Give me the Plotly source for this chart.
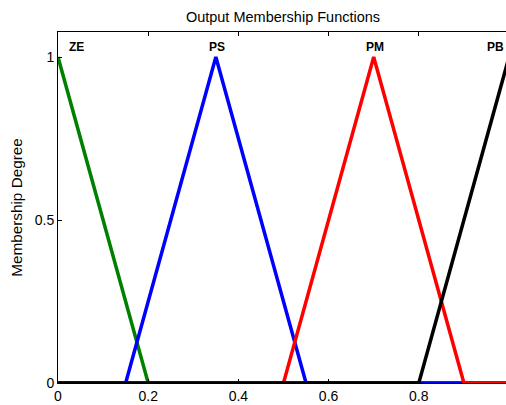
import plotly.graph_objects as go

# Membership function breakpoints
ze_x = [0.0, 0.2, 1.0]
ze_y = [1.0, 0.0, 0.0]
ps_x = [0.0, 0.15, 0.35, 0.55, 1.0]
ps_y = [0.0, 0.0, 1.0, 0.0, 0.0]
pm_x = [0.0, 0.5, 0.7, 0.9, 1.0]
pm_y = [0.0, 0.0, 1.0, 0.0, 0.0]
pb_x = [0.0, 0.8, 1.0]
pb_y = [0.0, 0.0, 1.0]

labels = ["ZE", "PS", "PM", "PB"]
label_x = [0.04, 0.352, 0.702, 0.969]
label_y = [1.03, 1.03, 1.03, 1.03]

x_ticks = [0, 0.2, 0.4, 0.6, 0.8]
x_ticktext = ["0", "0.2", "0.4", "0.6", "0.8"]
y_ticks = [0, 0.5, 1]
y_ticktext = ["0", "0.5", "1"]

series = [
    (ze_x, ze_y, "rgb(0,128,0)"),
    (ps_x, ps_y, "rgb(0,0,255)"),
    (pm_x, pm_y, "rgb(255,0,0)"),
    (pb_x, pb_y, "rgb(0,0,0)"),
]

FONT = "Liberation Sans, Arial"
W, H = 509, 405

fig = go.Figure()
for xs, ys, c in series:
    fig.add_trace(go.Scatter(x=xs, y=ys, mode="lines",
                             line=dict(color=c, width=3.5), showlegend=False,
                             cliponaxis=False, hoverinfo="skip"))

for t, xv, yv in zip(labels, label_x, label_y):
    fig.add_annotation(x=xv, y=yv, text="<b>%s</b>" % t, showarrow=False,
                       font=dict(family=FONT, size=12, color="black"),
                       xanchor="center", yanchor="middle")

fig.update_layout(
    width=W, height=H,
    margin=dict(l=58, r=0, t=32, b=22, autoexpand=False),
    paper_bgcolor="white", plot_bgcolor="white",
    font=dict(family=FONT, size=14, color="black"),
    title=dict(text="Output Membership Functions", x=283 / W, xanchor="center",
               y=1 - 17 / H, yanchor="middle",
               font=dict(size=14.5, color="black")),
    xaxis=dict(range=[0, 1], tickvals=x_ticks, ticktext=x_ticktext,
               ticks="inside", ticklen=4, tickcolor="black",
               showline=True, linecolor="black", linewidth=1,
               mirror="ticks", showgrid=False, zeroline=False,
               automargin=False, tickfont=dict(size=14)),
    yaxis=dict(range=[0, 1.077], tickvals=y_ticks, ticktext=y_ticktext,
               ticks="inside", ticklen=4, tickcolor="black",
               showline=True, linecolor="black", linewidth=1,
               mirror=False, showgrid=False, zeroline=False,
               automargin=False,
               title=dict(text="Membership Degree", standoff=8, font=dict(size=15.3)),
               tickfont=dict(size=14)),
)

fig.write_html(
    "out.html",
    config={"displayModeBar": False, "staticPlot": True},
    post_script=(
        "document.body.style.margin='0';"
        "document.body.style.overflow='hidden';"
        "document.documentElement.style.overflow='hidden';"
    ),
)
